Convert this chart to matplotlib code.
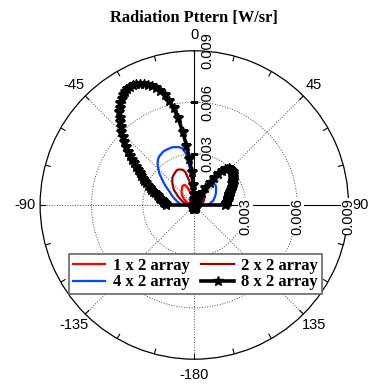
import numpy as np
import matplotlib
matplotlib.use('Agg')
import matplotlib.pyplot as plt
from matplotlib.transforms import offset_copy

# ---------------- data (values in mW/sr, theta in degrees) ----------------
theta_front = [-90, -87, -84, -81, -78, -75, -72, -69, -66, -63, -60, -57, -54, -51, -48,
               -45, -42, -39, -36, -33, -30, -27, -24, -21, -18, -15, -12, -9, -6, -3, 0,
               3, 6, 9, 12, 15, 18, 21, 24, 27, 30, 33, 36, 39, 42, 45, 48, 51, 54, 57,
               60, 63, 66, 69, 72, 75, 78, 81, 84, 87, 90]
theta_back_left = [-180, -150, -120, -93]
theta_back_right = [93, 120, 150, 180]
back_left = [0.0, 0.0, 0.0, 0.0]
back_right = [0.0, 0.0, 0.0, 0.0]

arr_1x2 = [0.17, 0.17, 0.23, 0.29, 0.29, 0.35, 0.41, 0.47, 0.52, 0.58, 0.70, 0.76, 0.82, 0.93, 0.99,
           1.05, 1.11, 1.16, 1.22, 1.28, 1.31, 1.31, 1.25, 1.05, 0.76, 0.47, 0.23, 0.12, 0.06, 0.03, 0.02,
           0.02, 0.02, 0.02, 0.02, 0.02, 0.02, 0.02, 0.02, 0.02, 0.02, 0.06, 0.12, 0.23, 0.29, 0.35,
           0.41, 0.41, 0.47, 0.47, 0.41, 0.41, 0.41, 0.35, 0.35, 0.29, 0.29, 0.23, 0.23, 0.23, 0.17]
arr_2x2 = [0.29, 0.35, 0.41, 0.47, 0.58, 0.64, 0.76, 0.82, 0.93, 1.05, 1.16, 1.28, 1.46, 1.57, 1.69,
           1.81, 1.92, 2.04, 2.10, 2.16, 2.21, 2.27, 2.27, 2.21, 2.16, 1.98, 1.46, 0.93, 0.58, 0.23, 0.06,
           0.03, 0.03, 0.03, 0.03, 0.03, 0.03, 0.03, 0.03, 0.03, 0.06, 0.17, 0.29, 0.47, 0.58, 0.64,
           0.70, 0.70, 0.70, 0.70, 0.64, 0.64, 0.58, 0.58, 0.52, 0.52, 0.47, 0.47, 0.41, 0.41, 0.35]
arr_4x2 = [0.82, 0.82, 0.87, 0.93, 1.05, 1.11, 1.22, 1.34, 1.46, 1.57, 1.75, 1.98, 2.21, 2.45, 2.74,
           2.97, 3.20, 3.38, 3.50, 3.55, 3.61, 3.61, 3.61, 3.61, 3.55, 3.50, 3.38, 3.03, 1.92, 0.87, 0.23,
           0.06, 0.06, 0.06, 0.06, 0.06, 0.06, 0.06, 0.12, 0.29, 0.64, 1.11, 1.40, 1.57, 1.69, 1.69,
           1.69, 1.63, 1.57, 1.51, 1.46, 1.40, 1.34, 1.28, 1.22, 1.17, 1.11, 0.99, 0.93, 0.87, 0.82]

# 8 x 2 array, sampled every 1.5 deg from -90 to 90
theta_8x2 = list(np.arange(-90.0, 90.01, 1.5))
arr_8x2 = [1.63, 1.66, 1.69, 1.75, 1.81, 1.87, 1.93, 2.01, 2.10, 2.19,
           2.28, 2.39, 2.51, 2.66, 2.80, 2.95, 3.09, 3.24, 3.39, 3.53,
           3.68, 3.88, 4.09, 4.29, 4.49, 4.73, 4.96, 5.22, 5.49, 5.75,
           6.01, 6.25, 6.48, 6.71, 6.95, 7.15, 7.35, 7.50, 7.65, 7.73,
           7.82, 7.87, 7.88, 7.85, 7.76, 7.66, 7.53, 7.35, 7.18, 6.95,
           6.65, 6.25, 5.78, 5.14, 4.32, 3.50, 2.69, 1.93, 1.17, 0.64,
           0.35,
           0.23, 0.18, 0.18, 0.18, 0.18, 0.18, 0.18, 0.18, 0.18, 0.18,
           0.18, 0.18, 0.18, 0.18, 0.20, 0.23, 0.29, 0.35, 0.47, 0.58,
           0.82, 1.17, 1.58, 1.93, 2.28, 2.57, 2.74, 2.86, 2.95, 2.98,
           2.99, 2.98, 2.95, 2.92, 2.86, 2.80, 2.74, 2.69, 2.63, 2.57,
           2.54, 2.51, 2.45, 2.39, 2.33, 2.28, 2.22, 2.16, 2.13, 2.10,
           2.07, 2.04, 2.01, 1.98, 1.96, 1.93, 1.90, 1.87, 1.84, 1.81]
theta_8x2_back_left = [-180, -165, -150, -135, -120, -105, -93]
arr_8x2_back_left = [0.22, 0.22, 0.20, 0.16, 0.10, 0.05, 0.0]
theta_8x2_back_right = [93, 105, 120, 135, 150, 165, 180]
arr_8x2_back_right = [0.0, 0.05, 0.10, 0.16, 0.20, 0.22, 0.22]

series_labels = ['1 x 2 array', '2 x 2 array', '4 x 2 array', '8 x 2 array']
angle_ticks = [0, 45, 135, 180, -135, -90, -45]
angle_labels = ['0', '45', '135', '-180', '-135', '-90', '-45']
radial_ticks = [0.003, 0.006, 0.009]
radial_labels = ['0.003', '0.006', '0.009']
rmax = 0.009

# ---------------- figure ----------------
W, H = 369, 385
fig = plt.figure(figsize=(W / 100, H / 100), dpi=100)
cx, cy, R = 194.3, 205.0, 154.2
ax = fig.add_axes([(cx - R) / W, (H - cy - R) / H, 2 * R / W, 2 * R / H], projection='polar')
ax.set_theta_zero_location('N')
ax.set_theta_direction(-1)
ax.set_ylim(0, rmax)
ax.set_xticks([])
ax.set_yticks([])
ax.grid(False)
ax.spines['polar'].set_linewidth(0.9)
ax.spines['polar'].set_color('black')

# grid circles
tt = np.linspace(0, 2 * np.pi, 721)
for r in radial_ticks[:-1]:
    ax.plot(tt, np.full_like(tt, r), linestyle=':', color='0.3', lw=0.7, zorder=1)
# spokes
for d in [45, 135, 180, 225, 270, 315]:
    a = np.deg2rad(d)
    ax.plot([a, a], [0, rmax], linestyle=':', color='0.3', lw=0.7, zorder=1)
# solid radial axes
for d in [0, 90]:
    a = np.deg2rad(d)
    ax.plot([a, a], [0, rmax], color='black', lw=0.8, zorder=1)
# outer ticks
for d in range(0, 360, 15):
    a = np.deg2rad(d)
    ax.plot([a, a], [rmax * (1 - 5 / R), rmax], color='black', lw=0.8, zorder=1)
# radial tick marks on the vertical axis
ax.plot([0] * len(radial_ticks[:-1]), radial_ticks[:-1], linestyle='none', marker='_',
        ms=6, mew=1.0, color='black', zorder=1)

# data
def full(front):
    th = np.deg2rad(theta_back_left + theta_front + theta_back_right)
    r = np.array(back_left + front + back_right) * 1e-3
    return th, r

colors = ['#ff0000', '#a00000', '#0046ff', 'black']
lines = {}
for vals, col, lab in zip([arr_1x2, arr_2x2, arr_4x2], colors[:3], series_labels[:3]):
    th, r = full(vals)
    ln, = ax.plot(th, r, color=col, lw=1.6, label=lab, zorder=3)
    lines[lab] = ln
th8 = np.deg2rad(theta_8x2_back_left + theta_8x2 + theta_8x2_back_right)
r8 = np.array(arr_8x2_back_left + arr_8x2 + arr_8x2_back_right) * 1e-3
ln, = ax.plot(th8, r8, color='black', lw=2.6, marker='*', ms=7.5, label=series_labels[3], zorder=4)
lines[series_labels[3]] = ln

# radial labels
tv = offset_copy(ax.transData, fig=fig, x=13, y=0, units='dots')
th_ = offset_copy(ax.transData, fig=fig, x=0, y=-11.5, units='dots')
for r, lab in zip(radial_ticks, radial_labels):
    ax.text(0, r, lab, transform=tv, rotation=90, ha='center', va='center',
            fontsize=10.5, family='Liberation Sans', zorder=5)
    ax.text(np.pi / 2, r, lab, transform=th_, rotation=90, ha='center', va='center',
            fontsize=10.5, family='Liberation Sans', zorder=5,
            bbox=dict(facecolor='white', edgecolor='none', pad=0.2))

# angle labels
for d, lab in zip(angle_ticks, angle_labels):
    ax.text(np.deg2rad(d), rmax * 1.1, lab, ha='center', va='center',
            fontsize=10.5, family='Liberation Sans', clip_on=False)
fig.text(368.5 / W, 1 - 205 / H, '90', ha='right', va='center',
         fontsize=10.5, family='Liberation Sans')

fig.text(194 / W, 1 - 18 / H, 'Radiation Pttern [W/sr]', ha='center', va='center',
         fontsize=11.8, fontweight='bold', family='Liberation Serif')

order = [series_labels[0], series_labels[2], series_labels[1], series_labels[3]]
leg = fig.legend([lines[k] for k in order], order, loc='center',
                 bbox_to_anchor=(195.5 / W, 1 - 274 / H),
                 ncol=2, prop=dict(family='Liberation Serif', weight='bold', size=12),
                 frameon=True, fancybox=False, edgecolor='0.4', framealpha=1,
                 handlelength=1.95, handletextpad=0.45, columnspacing=0.7,
                 labelspacing=0.05, borderpad=0.2, borderaxespad=0)
leg.get_frame().set_linewidth(1.2)

fig.savefig('out.png', dpi=100)
